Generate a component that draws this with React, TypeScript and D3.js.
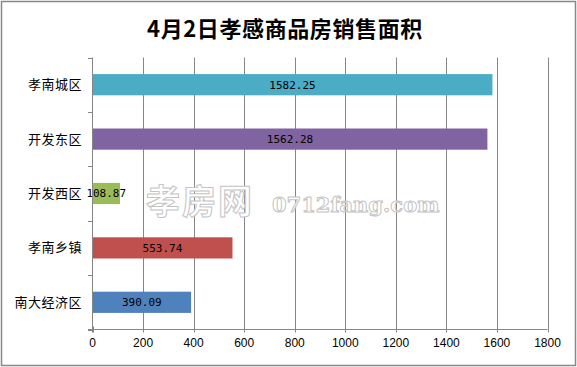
import React from "react";
import * as d3 from "d3";

const categories = ["孝南城区", "开发东区", "开发西区", "孝南乡镇", "南大经济区"];
const values = [1582.25, 1562.28, 108.87, 553.74, 390.09];
const colors = ["#4BACC6", "#8064A2", "#9BBB59", "#C0504D", "#4F81BD"];
const xTicks = [0, 200, 400, 600, 800, 1000, 1200, 1400, 1600, 1800];
const title = "4月2日孝感商品房销售面积";

const W = 577;
const H = 367;
const left = 92.5;
const right = 547.5;
const top = 57.5;
const bottom = 329.5;
const grid = "#868686";
const cjk = "'Noto Sans CJK SC', 'Noto Sans', sans-serif";

export default function App() {
  const x = d3.scaleLinear().domain([0, 1800]).range([left, right]);
  const y = d3.scaleBand<string>().domain(categories).range([top, bottom]).paddingInner(0.61).paddingOuter(0.305);
  const band = d3.scaleBand<string>().domain(categories).range([top, bottom]);
  const boundaries = categories.map((c) => band(c) as number).concat([bottom]);

  return (
    <svg width={W} height={H} style={{ position: "absolute", left: 0, top: 0, background: "#fff" }}>
      <rect x={1.5} y={1.5} width={W - 3} height={H - 3} fill="#fff" stroke="#888" strokeWidth={1.5} />
      <text x={285} y={37} textAnchor="middle" fontFamily={cjk} fontWeight="bold" fontSize={22} letterSpacing={0.6} fill="#000">
        {title}
      </text>
      {/* vertical gridlines */}
      {xTicks.slice(1).map((t) => (
        <line key={t} x1={Math.round(x(t)) + 0.5} x2={Math.round(x(t)) + 0.5} y1={top} y2={bottom} stroke={grid} strokeWidth={1} />
      ))}
      {/* watermark */}
      <g fill="#fff" stroke="#c4c4c4" strokeWidth={1}>
        <text x={146} y={214} fontFamily={cjk} fontWeight="bold" fontSize={34} letterSpacing={2}>孝房网</text>
        <text x={272} y={212} fontFamily="'DejaVu Serif', serif" fontWeight="bold" fontSize={21}>0712fang.com</text>
      </g>
      {/* bars */}
      {categories.map((c, i) => (
        <rect key={c} x={x(0)} y={y(c)} width={x(values[i]) - x(0)} height={y.bandwidth()} fill={colors[i]} />
      ))}
      {/* value labels */}
      {categories.map((c, i) => (
        <text
          key={c}
          x={(x(0) + x(values[i])) / 2}
          y={(y(c) as number) + y.bandwidth() / 2}
          dy="0.36em"
          textAnchor="middle"
          fontFamily="'DejaVu Sans Mono', monospace"
          fontSize={11}
          fill="#000"
        >
          {values[i].toFixed(2)}
        </text>
      ))}
      {/* y axis */}
      <line x1={left} x2={left} y1={top} y2={bottom + 3} stroke={grid} strokeWidth={1} />
      {boundaries.map((b, i) => (
        <line key={i} x1={left - 4.5} x2={left} y1={Math.round(b) + 0.5} y2={Math.round(b) + 0.5} stroke={grid} strokeWidth={1} />
      ))}
      {categories.map((c) => (
        <text
          key={c}
          x={82}
          y={(band(c) as number) + band.bandwidth() / 2}
          dy="0.35em"
          textAnchor="end"
          fontFamily={cjk}
          fontSize={13}
          letterSpacing={0.5}
          fill="#000"
        >
          {c}
        </text>
      ))}
      {/* x axis */}
      <line x1={left - 4.5} x2={right} y1={bottom} y2={bottom} stroke={grid} strokeWidth={1} />
      {xTicks.map((t) => (
        <g key={t}>
          <line x1={Math.round(x(t)) + 0.5} x2={Math.round(x(t)) + 0.5} y1={bottom - 3} y2={bottom + 3} stroke={grid} strokeWidth={1} />
          <text x={x(t)} y={347} textAnchor="middle" fontFamily="'Liberation Sans', sans-serif" fontSize={12} fill="#000">
            {t}
          </text>
        </g>
      ))}
    </svg>
  );
}
